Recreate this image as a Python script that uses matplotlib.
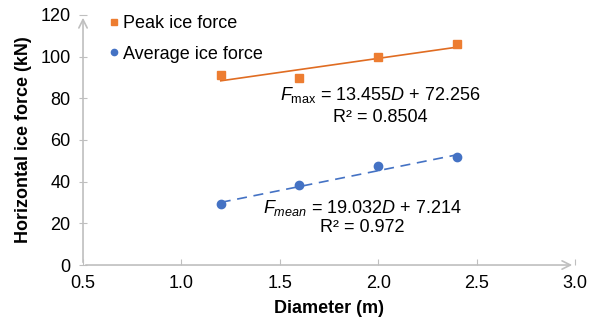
import numpy as np
import matplotlib
matplotlib.use('Agg')
import matplotlib.pyplot as plt

plt.rcParams['font.family'] = ['Liberation Sans', 'DejaVu Sans']
plt.rcParams['mathtext.fontset'] = 'custom'
plt.rcParams['mathtext.rm'] = 'Liberation Sans'
plt.rcParams['mathtext.it'] = 'Liberation Sans:italic'

# data
diameter = [1.2, 1.6, 2.0, 2.4]
peak_force = [91.3, 89.9, 99.6, 105.9]
mean_force = [29.3, 38.4, 47.7, 51.7]

# trend line coefficients (from the chart labels)
peak_fit = (13.455, 72.256)
mean_fit = (19.032, 7.214)

orange = '#ED7D31'
blue = '#4472C4'
axis_grey = '#BFBFBF'

fig = plt.figure(figsize=(5.9, 3.29), dpi=100)
ax = fig.add_axes([0.1407, 0.1945, 0.8339, 0.76])

xfit = np.array([diameter[0], diameter[-1]])
ax.plot(xfit, peak_fit[0] * xfit + peak_fit[1], color='#E06C22', lw=1.2, zorder=2)
ax.plot(xfit, mean_fit[0] * xfit + mean_fit[1], color=blue, lw=1.2,
        ls=(0, (6, 4)), zorder=2)

ax.plot(diameter, peak_force, 's', color=orange, ms=6, label='Peak ice force', zorder=3)
ax.plot(diameter, mean_force, 'o', color=blue, ms=6, label='Average ice force', zorder=3)

ax.set_xlim(0.5, 3.0)
ax.set_ylim(0, 120)
ax.set_xticks([0.5, 1.0, 1.5, 2.0, 2.5, 3.0])
ax.set_xticklabels(['0.5', '1.0', '1.5', '2.0', '2.5', '3.0'])
ax.set_yticks(range(0, 121, 20))

for s in ax.spines.values():
    s.set_visible(False)

# axes drawn as arrows
ax.annotate('', xy=(1.0, 0), xytext=(0, 0), xycoords='axes fraction',
            arrowprops=dict(arrowstyle='->,head_length=0.6,head_width=0.3',
                            color=axis_grey, lw=1.2), annotation_clip=False)
ax.annotate('', xy=(0, 1.0), xytext=(0, 0), xycoords='axes fraction',
            arrowprops=dict(arrowstyle='->,head_length=0.6,head_width=0.3',
                            color=axis_grey, lw=1.2), annotation_clip=False)

ax.tick_params(axis='x', direction='in', length=4, color=axis_grey, labelsize=13, pad=7)
ax.tick_params(axis='y', direction='inout', length=6, color=axis_grey, labelsize=13, pad=6)

ax.set_xlabel('Diameter (m)', fontsize=13, fontweight='bold', labelpad=6)
ax.set_ylabel('Horizontal ice force (kN)', fontsize=13, fontweight='bold', labelpad=6)

ax.legend(loc='upper left', bbox_to_anchor=(0.015, 1.065), frameon=False, fontsize=13,
          handletextpad=0.1, handlelength=0.8, markerscale=0.75, labelspacing=0.75)

ax.text(2.01, 81.6, r'$F_{\mathrm{max}}$ = 13.455$D$ + 72.256', fontsize=13,
        ha='center', va='center')
ax.text(2.01, 71, 'R² = 0.8504', fontsize=13, ha='center', va='center')
ax.text(1.92, 27.4, r'$F_{mean}$ = 19.032$D$ + 7.214', fontsize=13,
        ha='center', va='center')
ax.text(1.92, 18.2, 'R² = 0.972', fontsize=13, ha='center', va='center')

fig.savefig('out.png', dpi=100)
